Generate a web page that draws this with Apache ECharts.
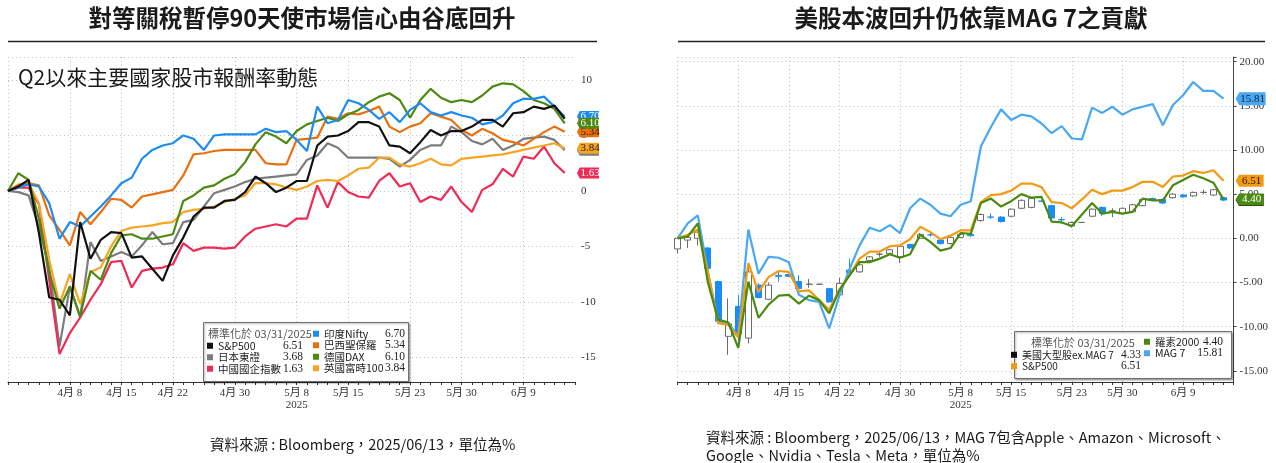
<!DOCTYPE html>
<html>
<head>
<meta charset="utf-8">
<script src="https://cdn.jsdelivr.net/npm/echarts@6.0.0/dist/echarts.min.js"></script>
<style>
  html, body { margin: 0; padding: 0; background: #fff; }
  #main { width: 1276px; height: 463px; }
</style>
</head>
<body>
<div id="main"></div>
<script>
// weekdays 3/31 .. 6/13 plus one empty slot at the right edge
var dates = ['3/31','4/1','4/2','4/3','4/4','4/7','4/8','4/9','4/10','4/11',
  '4/14','4/15','4/16','4/17','4/18','4/21','4/22','4/23','4/24','4/25',
  '4/28','4/29','4/30','5/1','5/2','5/5','5/6','5/7','5/8','5/9',
  '5/12','5/13','5/14','5/15','5/16','5/19','5/20','5/21','5/22','5/23',
  '5/26','5/27','5/28','5/29','5/30','6/2','6/3','6/4','6/5','6/6',
  '6/9','6/10','6/11','6/12','6/13','6/16'];
var tickDates = ['4/8','4/15','4/22','4/30','5/8','5/15','5/23','5/30','6/9'];
var leftTicks = [-15, -10, -5, 0, 5, 10];
var rightTicks = [-15, -10, -5, 0, 5, 10, 15, 20];

// left chart: return since 03/31/2025 (%)
var spx = [0, 0.4, 1.0, -3.8, -9.6, -9.8, -11.2, -2.8, -6.1, -4.4,
  -3.7, -3.8, -6.0, -5.9, -7.0, -8.1, -5.8, -4.2, -2.3, -1.5,
  -1.5, -0.9, -0.8, -0.1, 1.3, 0.7, -0.1, 0.3, 0.9, 0.9,
  4.1, 4.9, 5.0, 5.4, 6.2, 6.2, 5.8, 4.1, 4.0, 3.4,
  4.4, 5.5, 5.0, 5.4, 5.4, 5.8, 6.4, 6.4, 5.8, 7.0,
  7.1, 7.6, 7.4, 7.7, 6.51];
var topix = [0, -0.1, -0.4, -3.3, -6.9, -14.0, -8.6, -11.4, -4.6, -6.3,
  -5.9, -5.5, -5.9, -4.9, -3.7, -4.8, -4.7, -2.8, -2.6, -1.4,
  -0.2, 0.1, 0.4, 0.8, 1.1, 1.2, 1.3, 1.4, 1.5, 2.8,
  3.2, 4.3, 3.9, 3.0, 3.0, 3.0, 3.0, 2.9, 2.2, 2.8,
  3.7, 4.1, 4.1, 5.8, 5.3, 4.5, 4.2, 4.7, 3.7, 4.1,
  4.7, 4.8, 4.9, 4.6, 3.68];
var hscei = [0, 0.3, 0.3, -1.2, -8.0, -14.7, -12.8, -11.4, -9.8, -8.4,
  -6.4, -6.3, -8.7, -7.2, -7.0, -6.9, -6.6, -4.7, -5.4, -5.1,
  -5.1, -5.2, -5.1, -4.1, -3.4, -3.2, -3.0, -3.2, -2.5, -2.5,
  0.5, -1.5, 0.8, -0.1, -0.5, -0.6, 0.9, 1.6, 0.4, 0.7,
  -1.0, -0.5, -0.8, 0.4, -1.0, -1.9, 0.1, 0.6, 2.0, 1.3,
  3.1, 2.9, 4.0, 2.5, 1.63];
var nifty = [0, 0.3, 0.6, 0.4, -1.1, -4.3, -2.8, -3.2, -2.3, -1.4,
  -0.4, 0.7, 1.2, 2.9, 3.7, 4.1, 4.3, 5.0, 4.7, 3.7,
  5.0, 5.1, 5.1, 5.1, 5.1, 5.6, 5.3, 5.4, 4.6, 3.6,
  7.6, 6.1, 6.4, 8.2, 7.9, 7.3, 6.5, 7.1, 6.2, 7.3,
  7.9, 7.1, 6.8, 7.1, 6.8, 6.6, 6.0, 6.2, 6.8, 7.9,
  8.3, 8.3, 8.5, 7.6, 6.70];
var ibov = [0, 0.5, 0.7, 0.5, -2.2, -3.5, -4.9, -1.9, -3.0, -1.9,
  -0.7, -0.8, -1.5, -0.5, -0.3, -0.1, 0.1, 1.4, 3.3, 3.4,
  3.6, 3.7, 3.7, 3.7, 3.7, 2.5, 2.4, 2.4, 4.6, 4.7,
  4.8, 6.7, 6.5, 7.0, 6.9, 7.2, 7.6, 5.8, 5.3, 5.8,
  6.1, 7.0, 6.7, 6.4, 5.5, 5.0, 5.6, 5.2, 4.6, 4.4,
  4.1, 4.7, 5.3, 5.8, 5.34];
var dax = [0, 1.6, 1.0, -2.5, -7.3, -10.6, -8.6, -11.3, -7.2, -8.0,
  -5.6, -4.0, -3.9, -4.3, -4.3, -4.1, -3.9, -0.9, -0.4, 0.3,
  0.5, 1.1, 1.5, 2.6, 4.2, 5.3, 4.9, 4.3, 5.4, 6.0,
  6.3, 6.6, 6.3, 6.9, 7.3, 8.0, 8.5, 8.8, 8.2, 6.6,
  8.2, 9.2, 8.4, 8.0, 8.2, 8.0, 8.6, 9.4, 9.7, 9.6,
  9.0, 8.2, 7.9, 7.4, 6.10];
var ftse = [0, 0.6, 0.7, -1.1, -6.2, -10.2, -7.5, -10.2, -7.3, -6.9,
  -5.0, -3.6, -3.3, -3.2, -3.1, -2.9, -2.8, -1.9, -1.7, -1.6,
  -1.4, -1.0, -0.7, -0.4, 0.7, 0.7, 0.6, 0.3, 0.1, 0.4,
  0.9, 1.0, 0.9, 1.4, 2.0, 2.1, 3.0, 3.0, 2.4, 2.2,
  2.5, 2.9, 2.4, 2.3, 2.9, 3.0, 3.1, 3.2, 3.3, 3.5,
  3.7, 3.9, 4.1, 4.3, 3.84];

// right chart
var mag7 = [0, 1.7, 2.6, -3.8, -9.4, -9.6, -11.0, 1.0, -4.0, -2.1,
  -2.2, -2.7, -6.4, -7.0, -7.2, -10.2, -6.5, -3.5, -0.8, 1.2,
  0.8, 1.5, 0.6, 3.4, 4.5, 3.8, 2.8, 2.5, 3.8, 4.2,
  10.4, 12.6, 14.6, 13.4, 14.0, 13.8, 13.0, 11.9, 12.7, 11.3,
  11.2, 14.8, 14.2, 14.9, 14.0, 14.6, 14.9, 15.2, 12.8, 15.1,
  16.2, 17.7, 16.7, 16.7, 15.81];
var rut = [0, 0.2, 1.7, -5.0, -9.2, -9.5, -12.4, -4.9, -9.0, -7.5,
  -6.5, -6.4, -7.4, -6.5, -7.0, -8.5, -5.9, -4.2, -2.7, -2.7,
  -2.3, -1.8, -2.2, -1.8, 0.4, -0.4, -1.4, -1.1, 0.6, 0.5,
  4.0, 4.5, 3.6, 4.2, 5.0, 4.6, 4.7, 1.9, 1.8, 1.4,
  2.7, 4.0, 2.8, 3.0, 2.8, 3.0, 4.5, 4.3, 4.3, 6.0,
  6.6, 7.2, 6.8, 6.3, 4.40];
// US large caps ex MAG 7, daily candles
var exOpen = [-1.2, -0.2, 0, -1.1, -4.9, -11.1, -7.7, -11.3, -5.3, -6.9,
  -4.2, -4.1, -4.9, -5.2, -5.2, -5.7, -6.4, -3.6, -3.8, -2.5,
  -1.8, -1.7, -2.1, -0.7, 0, 0.4, -0.2, -0.6, 0.1, 0.45,
  2.0, 2.4, 2.4, 2.5, 3.4, 3.5, 4.2, 3.7, 2.1, 1.4,
  1.8, 2.5, 3.5, 3.1, 2.8, 3.0, 3.7, 4.5, 4.4, 4.6,
  4.9, 4.8, 5.2, 4.9, 4.6];
var exClose = [0, 0.1, 0.7, -3.4, -9.4, -9.7, -10.8, -3.8, -6.7, -5.3,
  -4.3, -4.3, -5.7, -5.2, -5.2, -7.2, -5.1, -3.9, -3.0, -2.1,
  -1.8, -1.3, -0.9, -1.1, 0.45, 0.4, -0.6, 0.1, 0.45, 0.3,
  2.7, 2.4, 1.9, 3.3, 4.3, 4.5, 4.2, 2.3, 2.1, 1.8,
  1.8, 3.3, 2.8, 3.1, 3.4, 3.8, 4.4, 4.3, 4.0, 5.0,
  4.7, 5.2, 5.2, 5.5, 4.33];
var exLow = [-1.7, -1.1, -0.8, -3.5, -9.5, -13.2, -12.1, -11.9, -6.8, -7.0,
  -4.9, -4.4, -5.8, -5.6, -5.2, -7.3, -6.5, -4.0, -3.9, -2.6,
  -2.1, -1.8, -2.8, -1.2, -0.1, 0.2, -0.7, -0.7, 0.0, 0.2,
  1.9, 2.2, 1.8, 2.4, 3.3, 3.4, 4.1, 2.2, 1.7, 1.2,
  1.8, 2.4, 2.5, 2.4, 2.7, 2.9, 3.6, 4.2, 3.9, 4.5,
  4.6, 4.7, 5.0, 4.8, 4.2];
var exHigh = [0.1, 0.2, 0.9, -1.0, -4.8, -6.8, -6.4, -3.3, -5.1, -5.0,
  -3.8, -4.0, -4.2, -4.6, -5.2, -5.6, -4.5, -2.3, -2.8, -2.0,
  -1.6, -1.2, -0.8, -0.6, 0.6, 0.6, -0.1, 0.2, 0.5, 0.5,
  2.8, 2.8, 2.5, 3.4, 4.4, 4.6, 4.3, 3.8, 2.4, 1.9,
  1.8, 3.4, 3.6, 3.4, 3.5, 3.9, 4.5, 4.6, 4.5, 5.1,
  5.0, 5.3, 5.5, 5.6, 4.7];

var CJK = "'Noto Sans CJK TC', 'Noto Sans', sans-serif";
var SERIF = "'Liberation Serif', 'Noto Sans CJK TC', serif";
var dotted = { color: '#c2c2c2', type: [1, 3], width: 1 };

function lastOf(a) { return a[a.length - 1]; }
var legendValue = {
  'S&P500': lastOf(spx), '日本東證': lastOf(topix), '中國國企指數': lastOf(hscei),
  '印度Nifty': lastOf(nifty), '巴西聖保羅': lastOf(ibov), '德國DAX': lastOf(dax),
  '英國富時100': lastOf(ftse), '美國大型股ex.MAG 7': lastOf(exClose),
  'MAG 7': lastOf(mag7), '羅素2000': lastOf(rut)
};

function fmtDate(v) {
  var p = v.split('/');
  return p[0] + '月 ' + p[1] + (v === '5/8' ? '\n2025' : '');
}

function dateAxis(gi) {
  return {
    type: 'category', gridIndex: gi, data: dates, boundaryGap: false,
    axisLine: { onZero: false, lineStyle: { color: '#333', width: 1 } },
    axisTick: { interval: 0, length: 3, lineStyle: { color: '#333' } },
    axisLabel: {
      interval: function (i, v) { return tickDates.indexOf(v) >= 0; },
      formatter: fmtDate, color: '#333', fontSize: 11, fontFamily: SERIF,
      margin: 5, lineHeight: 12
    },
    splitLine: {
      show: true,
      interval: function (i, v) { return i === 0 || tickDates.indexOf(v) >= 0; },
      lineStyle: dotted
    }
  };
}

function valueAxis(gi, min, max, ticks, digits, showLine) {
  return {
    type: 'value', gridIndex: gi, position: 'right', min: min, max: max,
    axisLine: { show: showLine, onZero: false, lineStyle: { color: '#444' } },
    axisTick: { show: showLine, length: 3, customValues: ticks.concat([max]), lineStyle: { color: '#444' } },
    axisLabel: {
      customValues: ticks, color: '#333', fontSize: 11, fontFamily: SERIF, margin: 6,
      formatter: function (v) { return v.toFixed(digits); }
    },
    splitLine: { lineStyle: dotted }
  };
}

function endTag(val, bg, fg, w, h, z) {
  return {
    symbol: 'path://M0,6 L5,0 L40,0 L40,12 L5,12 Z',
    symbolSize: [w, h],
    symbolOffset: [w / 2 + 2, 0],
    silent: true, z: z,
    itemStyle: { color: bg },
    label: {
      show: true, position: 'inside', color: fg, fontSize: 11, fontFamily: SERIF,
      offset: [2, 0], formatter: function () { return val.toFixed(2); }
    },
    data: [{ coord: ['6/16', val], value: val }]
  };
}

function lineSeries(name, data, color, gi, tag) {
  return {
    name: name, type: 'line', xAxisIndex: gi, yAxisIndex: gi, data: data,
    showSymbol: false, symbol: 'none', smooth: false,
    lineStyle: { color: color, width: 2.2 }, itemStyle: { color: color },
    emphasis: { disabled: true }, markPoint: tag
  };
}

function legendCol(left, top, items, nameW, valW, lh, nameSize) {
  return {
    left: left, top: top, orient: 'vertical', padding: 0, itemGap: 0,
    itemWidth: 6, itemHeight: 6, icon: 'rect', selectedMode: false,
    itemStyle: { borderWidth: 0 },
    data: items,
    formatter: function (name) {
      return '{n|' + name + '}{v|' + legendValue[name].toFixed(2) + '}';
    },
    textStyle: {
      rich: {
        n: { fontFamily: CJK, fontSize: nameSize, color: '#222', width: nameW, lineHeight: lh },
        v: { fontFamily: SERIF, fontSize: 11.5, color: '#222', width: valW, align: 'right', lineHeight: lh }
      }
    }
  };
}

function item(name, color) { return { name: name, itemStyle: { color: color } }; }

var C = {
  spx: '#111111', topix: '#7c7c7c', hscei: '#ee2b55', nifty: '#1d8cf0',
  ibov: '#e8700e', dax: '#4c8a12', ftse: '#f6a524',
  mag7: '#4aa8f0', spxR: '#f29a12', rut: '#4a8a10', ex: '#111111', exDown: '#1a8cf5'
};

var chart = echarts.init(document.getElementById('main'));
chart.setOption({
  animation: false,
  title: [
    { text: '對等關稅暫停90天使市場信心由谷底回升', left: 302, top: 6, textAlign: 'center', padding: 0,
      textStyle: { fontFamily: CJK, fontSize: 23.5, fontWeight: 'bold', color: '#1a1a1a' } },
    { text: '美股本波回升仍依靠MAG 7之貢獻', left: 971, top: 6, textAlign: 'center', padding: 0,
      textStyle: { fontFamily: CJK, fontSize: 23.5, fontWeight: 'bold', color: '#1a1a1a' } },
    { text: 'Q2以來主要國家股市報酬率動態', left: 18, top: 67, padding: 0,
      textStyle: { fontFamily: CJK, fontSize: 21, fontWeight: 'normal', color: '#1a1a1a' } },
    { text: '標準化於 03/31/2025', left: 208, top: 328, padding: 0,
      textStyle: { fontFamily: CJK, fontSize: 11, fontWeight: 'normal', color: '#555', lineHeight: 12 } },
    { text: '標準化於 03/31/2025', left: 1031, top: 336, padding: 0,
      textStyle: { fontFamily: CJK, fontSize: 11, fontWeight: 'normal', color: '#555', lineHeight: 13 } },
    { text: '資料來源 : Bloomberg，2025/06/13，單位為%', left: 210, top: 437, padding: 0,
      textStyle: { fontFamily: CJK, fontSize: 14.5, fontWeight: 'normal', color: '#1a1a1a' } },
    { text: '資料來源 : Bloomberg，2025/06/13，MAG 7包含Apple、Amazon、Microsoft、\nGoogle、Nvidia、Tesla、Meta，單位為%',
      left: 706, top: 428, padding: 0,
      textStyle: { fontFamily: CJK, fontSize: 14.5, fontWeight: 'normal', color: '#1a1a1a', lineHeight: 18 } }
  ],
  grid: [
    { left: 8, top: 57, width: 567, height: 325 },
    { left: 677.6, top: 57, width: 556, height: 325 }
  ],
  xAxis: [dateAxis(0), dateAxis(1)],
  yAxis: [
    valueAxis(0, -17.21, 12.07, leftTicks, 0, false),
    valueAxis(1, -16.27, 20.53, rightTicks, 2, true)
  ],
  legend: [
    legendCol(207, 340, [item('S&P500', C.spx), item('日本東證', C.topix), item('中國國企指數', C.hscei)], 66, 19, 12, 10.5),
    legendCol(313, 328, [item('印度Nifty', C.nifty), item('巴西聖保羅', C.ibov), item('德國DAX', C.dax), item('英國富時100', C.ftse)], 61, 20, 12, 10.5),
    legendCol(1011, 349, [item('美國大型股ex.MAG 7', C.ex), item('S&P500', C.spxR)], 99, 20, 13, 10),
    legendCol(1144, 336, [item('羅素2000', C.rut), item('MAG 7', C.mag7)], 46, 22, 13, 10.5)
  ],
  graphic: [
    { type: 'line', shape: { x1: 8, y1: 41.5, x2: 597, y2: 41.5 }, style: { stroke: '#222', lineWidth: 1.3 } },
    { type: 'line', shape: { x1: 678, y1: 41.5, x2: 1265, y2: 41.5 }, style: { stroke: '#222', lineWidth: 1.3 } },
    { type: 'rect', z: 3, shape: { x: 203.5, y: 322.5, width: 205, height: 59 },
      style: { fill: '#fff', stroke: '#707070', lineWidth: 1, shadowBlur: 2, shadowOffsetX: 1, shadowOffsetY: 1, shadowColor: 'rgba(0,0,0,0.35)' } },
    { type: 'rect', z: 3, shape: { x: 1014.5, y: 331.5, width: 217, height: 47 },
      style: { fill: '#fff', stroke: '#707070', lineWidth: 1, shadowBlur: 2, shadowOffsetX: 1, shadowOffsetY: 1, shadowColor: 'rgba(0,0,0,0.35)' } }
  ],
  series: [
    lineSeries('日本東證', topix, C.topix, 0, endTag(lastOf(topix), C.topix, '#fff', 22, 11, 5)),
    lineSeries('中國國企指數', hscei, C.hscei, 0, endTag(lastOf(hscei), C.hscei, '#fff', 22, 11, 5)),
    lineSeries('英國富時100', ftse, C.ftse, 0, endTag(lastOf(ftse), C.ftse, '#222', 22, 11, 6)),
    lineSeries('巴西聖保羅', ibov, C.ibov, 0, endTag(lastOf(ibov), C.ibov, '#3a1a00', 22, 11, 5)),
    lineSeries('德國DAX', dax, C.dax, 0, endTag(lastOf(dax), C.dax, '#fff', 22, 11, 7)),
    lineSeries('印度Nifty', nifty, C.nifty, 0, endTag(lastOf(nifty), C.nifty, '#fff', 22, 11, 5)),
    lineSeries('S&P500', spx, C.spx, 0, null),
    {
      name: '美國大型股ex.MAG 7', type: 'candlestick', xAxisIndex: 1, yAxisIndex: 1,
      data: exOpen.map(function (o, i) { return [o, exClose[i], exLow[i], exHigh[i]]; }),
      barWidth: 6.5,
      itemStyle: { color: '#ffffff', color0: C.exDown, borderColor: '#6b6b6b', borderColor0: C.exDown, borderWidth: 1 },
      emphasis: { disabled: true },
      markPoint: endTag(lastOf(exClose), C.ex, '#fff', 28, 12, 5)
    },
    lineSeries('MAG 7', mag7, C.mag7, 1, endTag(lastOf(mag7), C.mag7, '#0b2440', 30, 13, 5)),
    lineSeries('S&P500', spx, C.spxR, 1, endTag(lastOf(spx), C.spxR, '#2a1400', 28, 12, 5)),
    lineSeries('羅素2000', rut, C.rut, 1, endTag(lastOf(rut), C.rut, '#fff', 28, 12, 6))
  ]
});
</script>
</body>
</html>
